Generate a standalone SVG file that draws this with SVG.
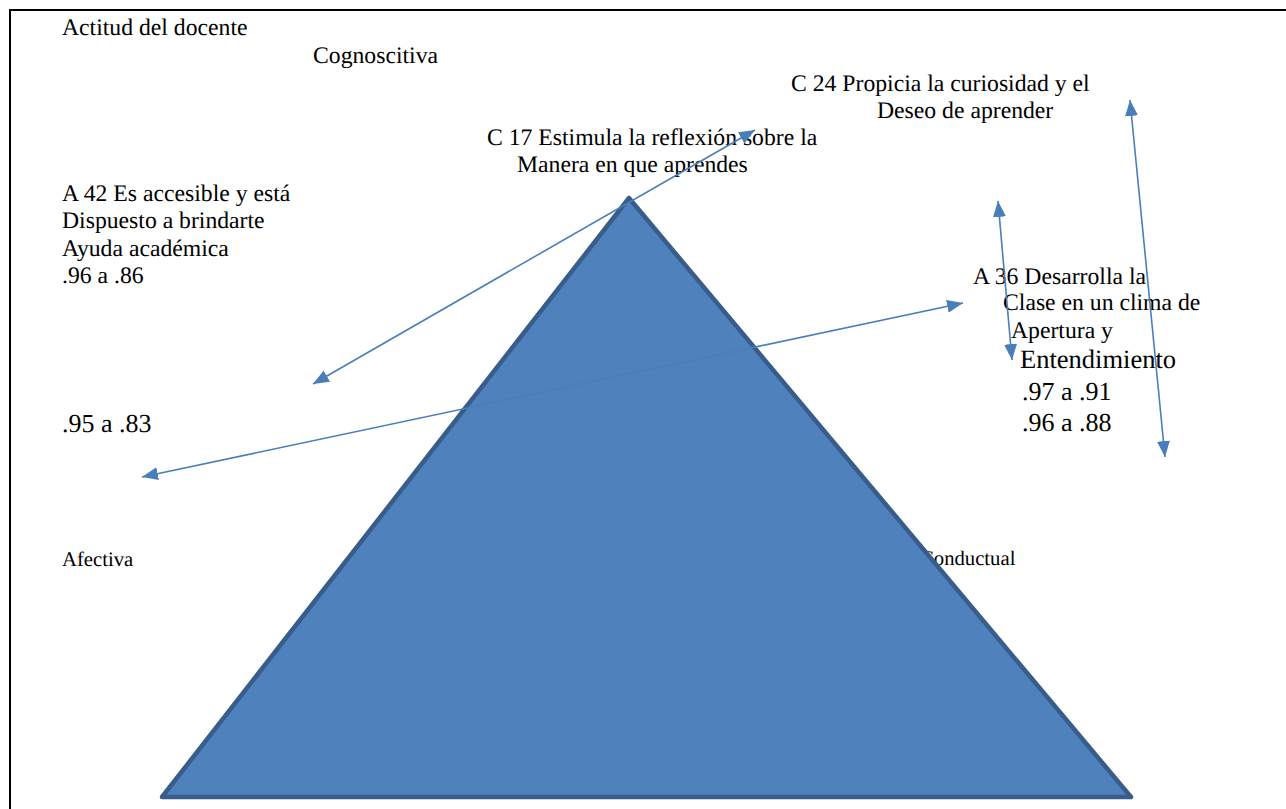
<svg xmlns="http://www.w3.org/2000/svg" width="1286" height="809" viewBox="0 0 1286 809">
<style>
text{font-family:"Liberation Serif","Times New Roman",serif;fill:#000;font-size:23.7px;text-rendering:geometricPrecision}
.big{font-size:26px}
.ent{font-size:26.5px}
.small{font-size:20.7px}
.conn{stroke:#4A7EBB;stroke-width:1.6;fill:none;marker-start:url(#ah);marker-end:url(#ah)}
</style>
<defs>
<marker id="ah" viewBox="0 0 16 13" refX="16" refY="6.5" markerWidth="16" markerHeight="13" markerUnits="userSpaceOnUse" orient="auto-start-reverse">
<path d="M0,0 L16,6.5 L0,13 z" fill="#4A7EBB"/>
</marker>
</defs>
<rect width="1286" height="809" fill="#fff"/>
<g id="frame" stroke="#000" stroke-width="2">
<line x1="9" y1="10" x2="1286" y2="10"/>
<line x1="10" y1="9" x2="10" y2="809"/>
</g>
<g id="title"><text x="62" y="35">Actitud del docente</text></g>
<g id="cognoscitiva"><text x="313" y="63">Cognoscitiva</text></g>
<g id="c24"><text x="791" y="91">C 24 Propicia la curiosidad y el</text><text x="877" y="118">Deseo de aprender</text></g>
<g id="c17"><text x="487" y="145">C 17 Estimula la reflexión sobre la</text><text x="517" y="172">Manera en que aprendes</text></g>
<g id="a42"><text x="62" y="201">A 42 Es accesible y está</text><text x="62" y="228">Dispuesto a brindarte</text><text x="62" y="256">Ayuda académica</text><text x="62" y="283">.96 a .86</text></g>
<g id="a36"><text x="973" y="284">A 36 Desarrolla la</text><text x="1003" y="310">Clase en un clima de</text><text x="1011" y="338">Apertura y</text><text class="ent" x="1020" y="368">Entendimiento</text><text class="big" x="1022" y="400">.97 a .91</text><text class="big" x="1022" y="431">.96 a .88</text></g>
<g id="v95"><text class="big" x="62" y="432">.95 a .83</text></g>
<g id="afectiva"><text class="small" x="62" y="566">Afectiva</text></g>
<g id="conductual"><text class="small" x="920" y="565">Conductual</text></g>
<g id="triangle"><polygon points="629,198 1131,797 162,797" fill="#4F81BD" stroke="#385D8A" stroke-width="4.5" stroke-linejoin="round"/></g>
<g id="connectors">
<line class="conn" x1="313" y1="384" x2="755" y2="130"/>
<line class="conn" x1="142" y1="477" x2="963" y2="303"/>
<line class="conn" x1="998" y1="201" x2="1012" y2="360"/>
<line class="conn" x1="1130" y1="100" x2="1165" y2="457"/>
</g>
</svg>
